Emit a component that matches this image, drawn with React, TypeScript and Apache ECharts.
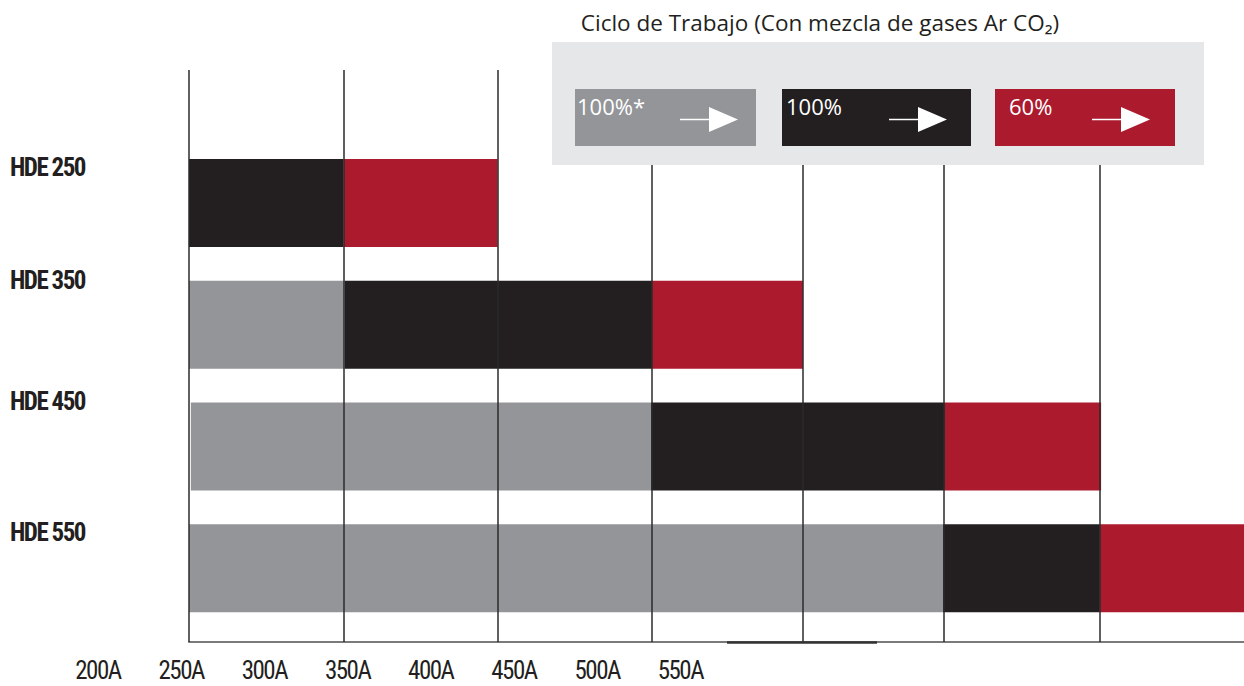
import React, { useEffect, useRef } from 'react';
import * as echarts from 'echarts';

// ---- data (amperes) ----
const categories = ['HDE 250', 'HDE 350', 'HDE 450', 'HDE 550'];
const rangeStart = [150, 150, 150.6, 150];
const dutyStarEnd = [150, 200.5, 299.7, 394.3]; // 100%* ends
const duty100End = [200, 300, 394.9, 445.1]; // 100% ends
const duty60End = [250, 348.9, 445.5, 500]; // 60% ends
const gridLineValues = [150, 200, 250, 300, 349, 394.6, 445.1];
const axisDarkSegment = [324.3, 372.9];
const tickLabels = ['200A', '250A', '300A', '350A', '400A', '450A', '500A', '550A'];
const seriesNames = ['100%*', '100%', '60%'];
const titleText = 'Ciclo de Trabajo (Con mezcla de gases Ar CO₂)';

// layout: label lift above bar centre (px)
const labelLift = [30, 39, 40, 31];

const AXIS_MIN = 150;
const AXIS_MAX = 491.8;

const GRAY = '#939598';
const BLACK = '#231f20';
const RED = '#ac1a2e';
const COND = '"Roboto Condensed", "DejaVu Sans Condensed", sans-serif';
const TITLE_FONT = '"Open Sans", "Noto Sans", sans-serif';

function legendItem(x: number, w: number, color: string, label: string, textDx: number, arrowX: number) {
  const y = 89;
  const h = 57;
  return [
    { type: 'rect', shape: { x, y, width: w, height: h }, style: { fill: color }, z: 11 },
    {
      type: 'text',
      x: x + textDx,
      y: y + 6,
      style: { text: label, fill: '#ffffff', font: `22px ${TITLE_FONT}`, textVerticalAlign: 'top' },
      z: 12,
    },
    {
      type: 'line',
      shape: { x1: arrowX, y1: y + 30.5, x2: arrowX + 30, y2: y + 30.5 },
      style: { stroke: '#ffffff', lineWidth: 1.5 },
      z: 12,
    },
    {
      type: 'polygon',
      shape: { points: [[arrowX + 29, y + 18], [arrowX + 58, y + 30.5], [arrowX + 29, y + 43]] },
      style: { fill: '#ffffff' },
      z: 12,
    },
  ];
}

export default function App() {
  const ref = useRef<HTMLDivElement>(null);
  useEffect(() => {
    if (!ref.current) return;
    const chart = echarts.init(ref.current, null, { renderer: 'svg' });
    const grayLen = dutyStarEnd.map((v, i) => +(v - rangeStart[i]).toFixed(2));
    const blackLen = duty100End.map((v, i) => +(v - dutyStarEnd[i]).toFixed(2));
    const redLen = duty60End.map((v, i) => +(v - duty100End[i]).toFixed(2));

    const rich: any = {};
    labelLift.forEach((lift, i) => {
      rich['r' + i] = {
        fontFamily: COND,
        fontWeight: 'bold;letter-spacing:-1.5px',
        fontSize: 25,
        color: BLACK,
        padding: [0, 0, lift, 0],
      };
    });

    const option: any = {
      animation: false,
      grid: [
        { left: 189, right: 0, top: 142, height: 487, containLabel: false, outerBoundsMode: 'none' },
        { left: 189, right: 0, top: 70, height: 572, containLabel: false, outerBoundsMode: 'none' },
        { left: 56.4, width: 665.6, top: 630, height: 12, containLabel: false, outerBoundsMode: 'none' },
      ],
      xAxis: [
        {
          type: 'value', gridIndex: 0, min: AXIS_MIN, max: AXIS_MAX,
          show: false, splitLine: { show: false },
        },
        {
          type: 'value', gridIndex: 1, min: AXIS_MIN, max: AXIS_MAX,
          axisLine: { show: true, onZero: false, lineStyle: { color: '#7a7a7a', width: 2 } },
          axisTick: { show: false }, axisLabel: { show: false }, splitLine: { show: false },
        },
        {
          type: 'category', gridIndex: 2, data: tickLabels, boundaryGap: true,
          axisLine: { show: false }, axisTick: { show: false }, splitLine: { show: false },
          axisLabel: {
            show: true, interval: 0, margin: 23, fontFamily: COND,
            fontWeight: 'normal;letter-spacing:-1.5px',
            fontSize: 25, color: BLACK,
          },
        },
      ],
      yAxis: [
        {
          type: 'category', gridIndex: 0, inverse: true, data: categories,
          axisLine: { show: false }, axisTick: { show: false }, splitLine: { show: false },
          axisLabel: {
            show: true, interval: 0, align: 'left', margin: 179, verticalAlign: 'bottom',
            fontFamily: COND, fontSize: 25, color: BLACK,
            formatter: (value: string, index: number) => `{r${index}|${value}}`,
            rich,
          },
        },
        { type: 'value', gridIndex: 1, min: 0, max: 1, show: false },
        { type: 'value', gridIndex: 2, min: 0, max: 1, show: false },
      ],
      series: [
        {
          name: 'base', type: 'bar', stack: 'duty', xAxisIndex: 0, yAxisIndex: 0,
          barWidth: 88, data: rangeStart, silent: true,
          itemStyle: { color: 'rgba(0,0,0,0)' },
        },
        {
          name: seriesNames[0], type: 'bar', stack: 'duty', xAxisIndex: 0, yAxisIndex: 0,
          barWidth: 88, data: grayLen, itemStyle: { color: GRAY },
        },
        {
          name: seriesNames[1], type: 'bar', stack: 'duty', xAxisIndex: 0, yAxisIndex: 0,
          barWidth: 88, data: blackLen, itemStyle: { color: BLACK },
        },
        {
          name: seriesNames[2], type: 'bar', stack: 'duty', xAxisIndex: 0, yAxisIndex: 0,
          barWidth: 88, data: redLen, itemStyle: { color: RED },
        },
        {
          name: 'grid', type: 'line', xAxisIndex: 1, yAxisIndex: 1, data: [], z: 5,
          silent: true,
          markLine: {
            silent: true, symbol: ['none', 'none'], label: { show: false },
            lineStyle: { color: '#2b2b2b', width: 1.5, type: 'solid' },
            data: [
              ...gridLineValues.map((v) => ({ xAxis: v })),
              [
                { coord: [axisDarkSegment[0], 0], lineStyle: { color: '#333333', width: 2.5, type: 'solid' } },
                { coord: [axisDarkSegment[1], 0] },
              ],
            ],
          },
        },
      ],
      graphic: [
        { type: 'rect', shape: { x: 552, y: 42, width: 652, height: 123 }, style: { fill: '#e6e7e8' }, z: 10 },
        {
          type: 'text', x: 820, y: 22, z: 12,
          style: {
            text: titleText, fill: BLACK, font: `22.5px ${TITLE_FONT}`,
            textAlign: 'center', textVerticalAlign: 'middle',
          },
        },
        ...legendItem(575, 181, GRAY, seriesNames[0], 2, 680),
        ...legendItem(782, 189, BLACK, seriesNames[1], 4, 889),
        ...legendItem(995, 180, RED, seriesNames[2], 14, 1092),
      ],
    };
    chart.setOption(option);
    return () => chart.dispose();
  }, []);
  return (
    <div
      ref={ref}
      style={{ position: 'fixed', left: 0, top: 0, width: 1244, height: 686, background: '#ffffff' }}
    />
  );
}
